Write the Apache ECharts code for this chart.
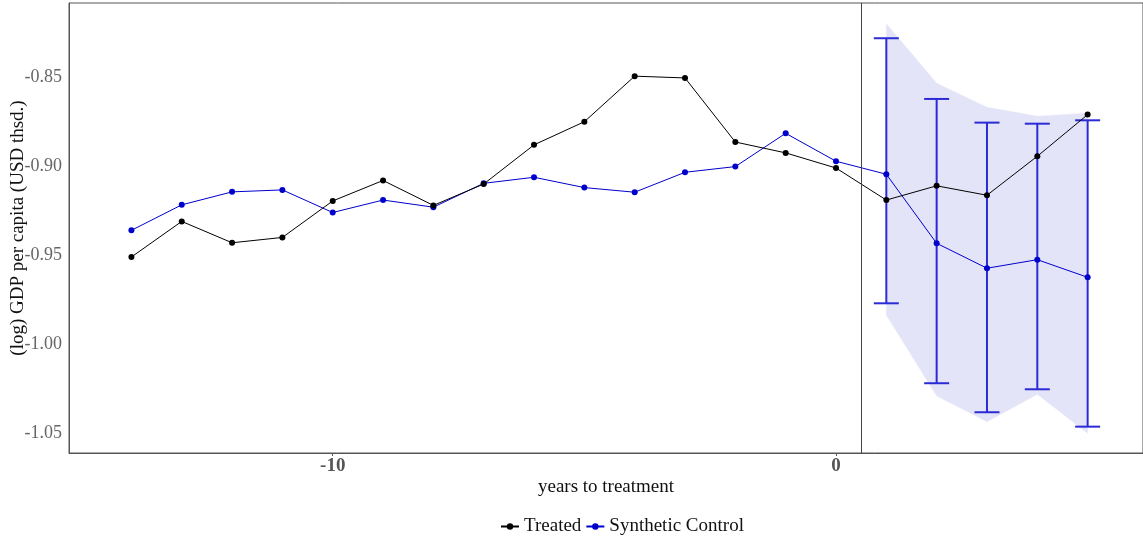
<!DOCTYPE html>
<html>
<head>
<meta charset="utf-8">
<script src="https://cdn.jsdelivr.net/npm/echarts@6/dist/echarts.min.js"></script>
<style>
  html, body { margin: 0; padding: 0; background: #fff; }
  #chart { width: 1143px; height: 539px; }
</style>
</head>
<body>
<div id="chart"></div>
<script>
// years relative to treatment
const years = [-14, -13, -12, -11, -10, -9, -8, -7, -6, -5, -4, -3, -2, -1, 0, 1, 2, 3, 4, 5];

const treated = [-0.951, -0.931, -0.943, -0.940, -0.9195, -0.908, -0.922, -0.910, -0.888, -0.875,
  -0.8494, -0.8504, -0.8864, -0.8925, -0.901, -0.919, -0.911, -0.9163, -0.8944, -0.871];

const synthetic = [-0.936, -0.9217, -0.9144, -0.9133, -0.926, -0.919, -0.923, -0.9096, -0.9062, -0.912,
  -0.9146, -0.9034, -0.9002, -0.8815, -0.8972, -0.9045, -0.9433, -0.9573, -0.9525, -0.9624];

// post-treatment error bars
const errYears = [1, 2, 3, 4, 5];
const errHigh = [-0.8281, -0.8622, -0.8755, -0.8761, -0.8742];
const errLow = [-0.977, -1.0219, -1.0382, -1.0253, -1.0463];

// shaded band
const bandYears = [1, 2, 3, 4, 5];
const bandHigh = [-0.820, -0.8534, -0.8669, -0.8719, -0.8702];
const bandLow = [-0.9836, -1.029, -1.0435, -1.0281, -1.050];

const yTicks = [-1.05, -1.00, -0.95, -0.90, -0.85];
const xTicks = [-10, 0];

const serif = '"Liberation Serif", "DejaVu Serif", serif';

const chart = echarts.init(document.getElementById('chart'));

const option = {
  animation: false,
  grid: {
    left: 69, top: 3, right: 0, bottom: 86,
    outerBoundsMode: 'none',
    containLabel: false,
    show: true, borderColor: '#555', borderWidth: 1, backgroundColor: '#fff'
  },
  legend: {
    data: ['Treated', 'Synthetic Control'],
    top: 512,
    left: 495,
    itemWidth: 18,
    itemHeight: 8,
    itemGap: 4,
    textStyle: { fontFamily: serif, fontSize: 19, color: '#111' }
  },
  xAxis: {
    type: 'value',
    min: -15.24,
    max: 6.1,
    name: 'years to treatment',
    nameLocation: 'middle',
    nameGap: 25,
    nameMoveOverlap: false,
    nameTextStyle: { fontFamily: serif, fontSize: 19, color: '#111' },
    axisLine: { show: true, onZero: false, lineStyle: { color: '#555' } },
    axisTick: { show: true, length: 3, lineStyle: { color: '#555' }, customValues: xTicks },
    axisLabel: {
      customValues: xTicks,
      fontFamily: serif, fontSize: 19, fontWeight: 'bold', color: '#555', margin: 4
    },
    splitLine: { show: false }
  },
  yAxis: {
    type: 'value',
    min: -1.0611,
    max: -0.8083,
    name: '(log) GDP per capita (USD thsd.)',
    nameLocation: 'middle',
    nameGap: 41,
    nameMoveOverlap: false,
    nameTextStyle: { fontFamily: serif, fontSize: 19, color: '#111' },
    axisLine: { show: true, onZero: false, lineStyle: { color: '#555' } },
    axisTick: { show: false },
    axisLabel: {
      customValues: yTicks,
      formatter: v => v.toFixed(2),
      fontFamily: serif, fontSize: 18, color: '#666', margin: 7
    },
    splitLine: { show: false }
  },
  series: [
    {
      name: 'band',
      type: 'custom',
      data: bandYears.map((x, i) => [x, bandLow[i], bandHigh[i]]),
      silent: true,
      z: 1,
      renderItem: (params, api) => {
        const i = params.dataIndex;
        if (i >= bandYears.length - 1) return null;
        const a = api.coord([bandYears[i], bandHigh[i]]);
        const b = api.coord([bandYears[i + 1], bandHigh[i + 1]]);
        const c = api.coord([bandYears[i + 1], bandLow[i + 1]]);
        const d = api.coord([bandYears[i], bandLow[i]]);
        return {
          type: 'polygon',
          shape: { points: [a, b, c, d] },
          style: { fill: '#e4e4f8', stroke: '#e4e4f8', lineWidth: 0.5 }
        };
      }
    },
    {
      name: 'errors',
      type: 'custom',
      data: errYears.map((x, i) => [x, errLow[i], errHigh[i]]),
      z: 2,
      renderItem: (params, api) => {
        const lo = api.coord([api.value(0), api.value(1)]);
        const hi = api.coord([api.value(0), api.value(2)]);
        const half = 12.5;
        const style = { stroke: '#2b2bd6', lineWidth: 2 };
        return {
          type: 'group',
          children: [
            { type: 'line', shape: { x1: lo[0], y1: lo[1], x2: hi[0], y2: hi[1] }, style },
            { type: 'line', shape: { x1: lo[0] - half, y1: lo[1], x2: lo[0] + half, y2: lo[1] }, style },
            { type: 'line', shape: { x1: hi[0] - half, y1: hi[1], x2: hi[0] + half, y2: hi[1] }, style }
          ]
        };
      }
    },
    {
      name: 'Treated',
      type: 'line',
      data: years.map((x, i) => [x, treated[i]]),
      symbol: 'circle',
      symbolSize: 6,
      color: '#000',
      lineStyle: { color: '#000', width: 1 },
      itemStyle: { color: '#000' },
      z: 4,
      markLine: {
        silent: true,
        symbol: 'none',
        label: { show: false },
        lineStyle: { color: '#444', width: 1, type: 'solid' },
        data: [{ xAxis: 0.5 }]
      }
    },
    {
      name: 'Synthetic Control',
      type: 'line',
      data: years.map((x, i) => [x, synthetic[i]]),
      symbol: 'circle',
      symbolSize: 6,
      color: '#0000cd',
      lineStyle: { color: '#0000cd', width: 1 },
      itemStyle: { color: '#0000cd' },
      z: 3
    }
  ]
};

chart.setOption(option);
</script>
</body>
</html>
